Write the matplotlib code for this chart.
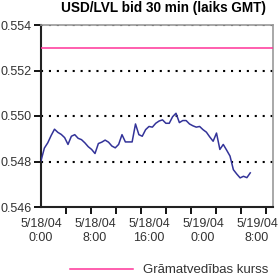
import matplotlib
matplotlib.use("Agg")
import matplotlib.pyplot as plt
import numpy as np
import pandas as pd

plt.rcParams['font.family'] = ['Liberation Sans', 'DejaVu Sans']

# USD/LVL bid, 30 min steps starting 5/18/04 0:00 (GMT)
bid = [0.54803, 0.54859, 0.54882, 0.54914, 0.54942, 0.54928, 0.54919, 0.54905,
       0.54875, 0.54911, 0.54918, 0.54902, 0.54896, 0.54882, 0.54865, 0.54853,
       0.54835, 0.54879, 0.54885, 0.54894, 0.54885, 0.54868, 0.54860, 0.54875,
       0.54918, 0.54886, 0.54886, 0.54886, 0.54965, 0.54918, 0.54911, 0.54940,
       0.54954, 0.54951, 0.54968, 0.54978, 0.54983, 0.54968, 0.54968, 0.54997,
       0.55012, 0.54971, 0.54980, 0.54980, 0.54965, 0.54957, 0.54951, 0.54954,
       0.54940, 0.54929, 0.54908, 0.54889, 0.54925, 0.54853, 0.54875, 0.54850,
       0.54824, 0.54764, 0.54745, 0.54728, 0.54735, 0.54729, 0.54750]
gramatvedibas = 0.553
times = pd.date_range("2004-05-18 00:00", periods=len(bid), freq="30min")
hours = (times - times[0]).total_seconds() / 3600

y_ticks = [0.546, 0.548, 0.550, 0.552, 0.554]
x_label_hours = [0, 8, 16, 24, 32]
x_labels = ["5/18/04\n0:00", "5/18/04\n8:00", "5/18/04\n16:00",
            "5/19/04\n0:00", "5/19/04\n8:00"]

fig = plt.figure(figsize=(2.8, 2.75), dpi=100)
ax = fig.add_axes([41/280, 1-207/275, 232/280, 182/275])

ax.plot(hours, bid, color="#333399", lw=1.1, zorder=3)
ax.axhline(gramatvedibas, color="#ff3399", lw=1.1, zorder=3,
           label="Grāmatvedības kurss")

xmax = 232 / 6.75
ax.set_xlim(0, xmax)
ax.set_ylim(0.546, 0.554)

ax.set_yticks(y_ticks)
ax.set_yticklabels([f"{v:.3f}" for v in y_ticks])
for v in y_ticks[1:]:
    ax.axhline(v, color="black", lw=1.5, ls=(0, (1, 2.8)), zorder=2)

ax.set_xticks(x_label_hours)
ax.set_xticklabels(x_labels)
ax.set_xticks(np.arange(0, xmax, 25/6.75), minor=True)
ax.tick_params(axis="x", which="major", length=0, pad=8)
ax.tick_params(axis="x", which="minor", length=5, width=1.3, direction="out")
ax.tick_params(axis="y", length=5, width=1.3, direction="out", pad=1.5)
ax.tick_params(labelsize=9, labelcolor="#333333")

for s in ["left", "bottom"]:
    ax.spines[s].set_color("#222222")
    ax.spines[s].set_linewidth(1.5)
for s in ["top", "right"]:
    ax.spines[s].set_color("#999999")
    ax.spines[s].set_linewidth(1.2)

fig.text(163/280, 1-8/275, "USD/LVL bid 30 min (laiks GMT)", ha="center",
         va="center", fontsize=9.8, fontweight="bold")

fig.legend(loc="center left", bbox_to_anchor=(63/280, 1-270/275), frameon=False,
           borderpad=0, handlelength=4.8, handletextpad=0.8, fontsize=9.5,
           labelcolor="#333333")

fig.savefig("out.png", dpi=100)
